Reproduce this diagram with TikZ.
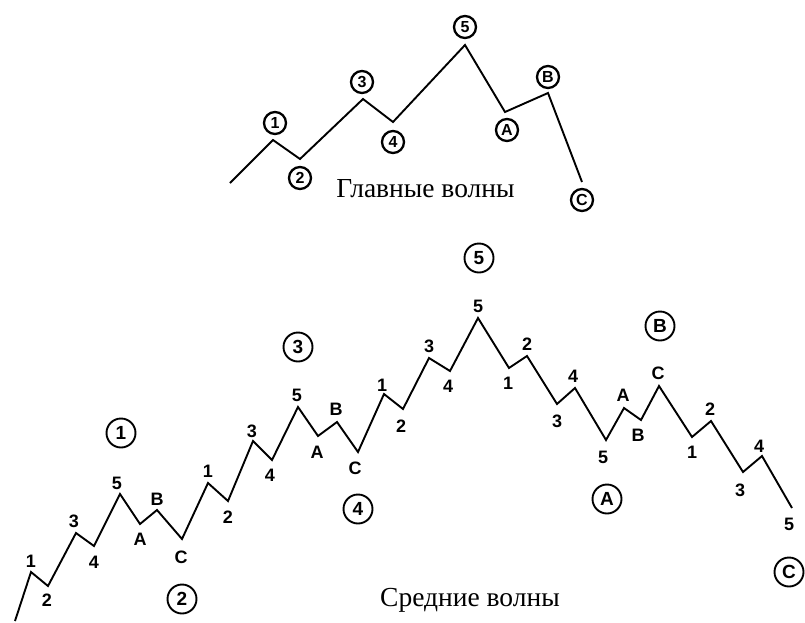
\documentclass[tikz,border=0pt]{standalone}
\usepackage{fontspec}
\setmainfont{Liberation Serif}
\newfontfamily\lblfont{Liberation Sans}
\begin{document}
\begin{tikzpicture}[x=1pt,y=-1pt,
  wave/.style={line width=1.9pt,line join=miter},
  sub/.style={font=\lblfont\bfseries\fontsize{18}{18}\selectfont,inner sep=0pt},
  bigc/.style={circle,draw,line width=1.9pt,minimum size=29pt,inner sep=0pt,font=\lblfont\bfseries\fontsize{19}{19}\selectfont},
  topc/.style={circle,draw,line width=2.3pt,minimum size=22pt,inner sep=0pt,font=\lblfont\bfseries\fontsize{16}{16}\selectfont},
  title/.style={font=\fontsize{27.5}{27.5}\selectfont,anchor=base,inner sep=0pt}]
\useasboundingbox (0,0) rectangle (805,622);
% ---------- top: main waves ----------
\coordinate (t0) at (230,183);
\coordinate (t1) at (273,140);
\coordinate (t2) at (300,159);
\coordinate (t3) at (363,99);
\coordinate (t4) at (393,122);
\coordinate (t5) at (465,45);
\coordinate (tA) at (505,112);
\coordinate (tB) at (548,93);
\coordinate (tC) at (582,182);
\draw[wave] (t0)--(t1)--(t2)--(t3)--(t4)--(t5)--(tA)--(tB)--(tC);
\node[topc] (c1) at (275,123) {1};
\node[topc] (c2) at (300,178) {2};
\node[topc] (c3) at (362,82) {3};
\node[topc] (c4) at (393,142) {4};
\node[topc] (c5) at (465,27) {5};
\node[topc] (cA) at (507,130) {A};
\node[topc] (cB) at (548,77) {B};
\node[topc] (cC) at (582,200) {C};
\node[title] (ttop) at (425.5,197) {Главные волны};
% ---------- bottom: intermediate waves ----------
\coordinate (p0) at (15,621);
\coordinate (p1) at (31,572);
\coordinate (p2) at (48,586);
\coordinate (p3) at (76,533);
\coordinate (p4) at (94,546);
\coordinate (p5) at (120,494);
\coordinate (pA) at (140,524);
\coordinate (pB) at (157,510);
\coordinate (pC) at (182,539);
\coordinate (q1) at (208,483);
\coordinate (q2) at (228,501);
\coordinate (q3) at (253,441);
\coordinate (q4) at (272,460);
\coordinate (q5) at (298,407);
\coordinate (qA) at (318,436);
\coordinate (qB) at (337,422);
\coordinate (qC) at (358,452);
\coordinate (r1) at (384,394);
\coordinate (r2) at (403,409);
\coordinate (r3) at (429,358);
\coordinate (r4) at (450,371);
\coordinate (r5) at (478,318);
\coordinate (s1) at (509,368);
\coordinate (s2) at (527,356);
\coordinate (s3) at (557,404);
\coordinate (s4) at (575,388);
\coordinate (s5) at (606,440);
\coordinate (sA) at (624,408);
\coordinate (sB) at (641,420);
\coordinate (sC) at (659,386);
\coordinate (u1) at (692,437);
\coordinate (u2) at (711,421);
\coordinate (u3) at (743,472);
\coordinate (u4) at (762,456);
\coordinate (u5) at (792,508);
\draw[wave] (p0)--(p1)--(p2)--(p3)--(p4)--(p5)--(pA)--(pB)--(pC)
  --(q1)--(q2)--(q3)--(q4)--(q5)--(qA)--(qB)--(qC)
  --(r1)--(r2)--(r3)--(r4)--(r5)
  --(s1)--(s2)--(s3)--(s4)--(s5)--(sA)--(sB)--(sC)
  --(u1)--(u2)--(u3)--(u4)--(u5);
% sub labels
\node[sub] (lp1) at (31,561) {1};
\node[sub] (lp2) at (47,600) {2};
\node[sub] (lp3) at (74,521) {3};
\node[sub] (lp4) at (94,562) {4};
\node[sub] (lp5) at (117,483) {5};
\node[sub] (lpA) at (140,539) {A};
\node[sub] (lpB) at (157,499) {B};
\node[sub] (lpC) at (181,557) {C};
\node[sub] (lq1) at (208,471) {1};
\node[sub] (lq2) at (228,517) {2};
\node[sub] (lq3) at (252,431) {3};
\node[sub] (lq4) at (270,475) {4};
\node[sub] (lq5) at (297,395) {5};
\node[sub] (lqA) at (317,452) {A};
\node[sub] (lqB) at (336,409) {B};
\node[sub] (lqC) at (355,468) {C};
\node[sub] (lr1) at (382,385) {1};
\node[sub] (lr2) at (401,426) {2};
\node[sub] (lr3) at (429,346) {3};
\node[sub] (lr4) at (448,386) {4};
\node[sub] (lr5) at (478,306) {5};
\node[sub] (ls1) at (508,383) {1};
\node[sub] (ls2) at (527,344) {2};
\node[sub] (ls3) at (557,421) {3};
\node[sub] (ls4) at (573,376) {4};
\node[sub] (ls5) at (603,457) {5};
\node[sub] (lsA) at (623,395) {A};
\node[sub] (lsB) at (638,435) {B};
\node[sub] (lsC) at (658,373) {C};
\node[sub] (lu1) at (692,452) {1};
\node[sub] (lu2) at (710,409) {2};
\node[sub] (lu3) at (740,490) {3};
\node[sub] (lu4) at (759,446) {4};
\node[sub] (lu5) at (789,524) {5};
% circled labels
\node[bigc] (b1) at (121,433) {1};
\node[bigc] (b2) at (182,599) {2};
\node[bigc] (b3) at (298,347) {3};
\node[bigc] (b4) at (358,509) {4};
\node[bigc] (b5) at (479,258) {5};
\node[bigc] (bA) at (607,499) {A};
\node[bigc] (bB) at (660,326) {B};
\node[bigc] (bC) at (789,572) {C};
\node[title] (tbot) at (470,606) {Средние волны};
\end{tikzpicture}
\end{document}
